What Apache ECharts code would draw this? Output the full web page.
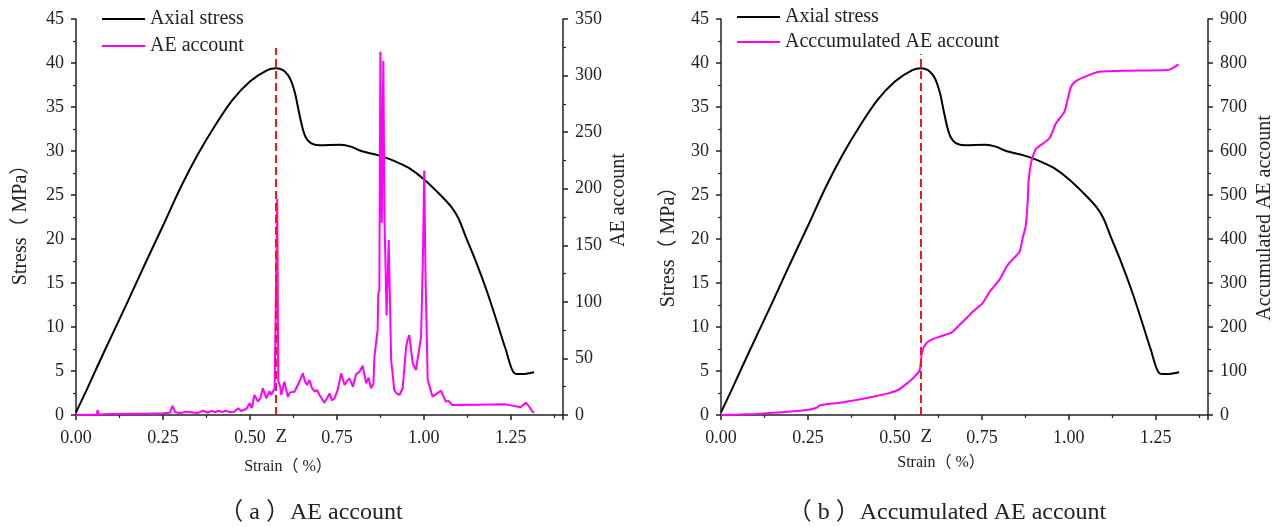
<!DOCTYPE html>
<html>
<head>
<meta charset="utf-8">
<title>Stress–strain and AE count</title>
<script src="https://cdn.jsdelivr.net/npm/echarts@6/dist/echarts.min.js"></script>
<style>
  html, body { margin: 0; padding: 0; background: #fff; }
  #chart { width: 1288px; height: 527px; }
</style>
</head>
<body>
<div id="chart"></div>
<script>
// Axial stress curve (shared by both panels): strain (%) and stress (MPa)
const strainStress = [0, 0.03, 0.06, 0.10, 0.15, 0.20, 0.25, 0.30, 0.35, 0.40, 0.45, 0.50, 0.55, 0.575, 0.595, 0.61, 0.62, 0.63, 0.64, 0.65, 0.66, 0.675, 0.70, 0.76, 0.79, 0.82, 0.87, 0.90, 0.93, 0.96, 1.00, 1.04, 1.08, 1.10, 1.12, 1.15, 1.18, 1.21, 1.235, 1.262, 1.285, 1.317];
const stress = [0.3, 2.8, 5.4, 8.8, 13.0, 17.3, 21.5, 25.8, 29.6, 32.9, 35.8, 37.9, 39.2, 39.4, 39.2, 38.6, 37.8, 36.5, 34.6, 32.8, 31.6, 30.9, 30.65, 30.7, 30.5, 30.0, 29.5, 29.1, 28.6, 28.0, 26.8, 25.3, 23.6, 22.3, 20.3, 17.4, 14.2, 10.6, 7.5, 4.7, 4.65, 4.85];

// AE count per step
const strainAE = [0, 0.03, 0.06, 0.062, 0.065, 0.10, 0.15, 0.20, 0.25, 0.27, 0.277, 0.285, 0.30, 0.315, 0.33, 0.35, 0.365, 0.38, 0.39, 0.40, 0.41, 0.42, 0.43, 0.44, 0.455, 0.466, 0.475, 0.49, 0.499, 0.505, 0.513, 0.523, 0.53, 0.537, 0.547, 0.556, 0.561, 0.571, 0.575, 0.5785, 0.5815, 0.587, 0.590, 0.599, 0.609, 0.615, 0.628, 0.640, 0.652, 0.658, 0.664, 0.671, 0.678, 0.686, 0.693, 0.700, 0.714, 0.722, 0.729, 0.736, 0.743, 0.752, 0.762, 0.772, 0.779, 0.786, 0.796, 0.805, 0.815, 0.824, 0.834, 0.841, 0.848, 0.855, 0.858, 0.867, 0.869, 0.872, 0.875, 0.879, 0.8835, 0.887, 0.893, 0.899, 0.906, 0.915, 0.922, 0.930, 0.939, 0.949, 0.953, 0.958, 0.968, 0.977, 0.992, 0.998, 1.001, 1.005, 1.011, 1.025, 1.049, 1.063, 1.070, 1.082, 1.15, 1.235, 1.278, 1.293, 1.302, 1.312, 1.317];
const aeCount = [0, 0.3, 0.5, 4.4, 0.5, 0.8, 1, 1.2, 1.5, 2, 8.2, 2.5, 1.5, 3, 2.5, 1.8, 3.8, 2, 3.6, 2.4, 3.8, 2.6, 3.9, 2.5, 2.8, 5.9, 3.5, 5.5, 10.3, 6, 17.7, 11.8, 15, 23.6, 14.7, 21, 17.7, 23.6, 23.6, 191, 30, 25, 17.7, 29.4, 16, 20, 20.6, 28, 36.8, 30, 26.5, 31, 24, 20.6, 22, 17.7, 10.9, 15, 19, 13, 14.7, 22, 36.8, 26.5, 30, 32.4, 25, 36, 38.3, 43.6, 28, 33, 23.6, 27.7, 51.6, 75, 107.5, 110, 321, 170, 313, 170, 88, 154.7, 48.6, 22, 19, 17.7, 23.6, 60.4, 66, 70.7, 45.7, 39.8, 69, 150, 216, 120, 31, 16.2, 21.5, 11.8, 12.5, 8.8, 9.1, 9.4, 6.8, 10.9, 7.7, 2.9, 2];

// Accumulated AE count
const strainCum = [0, 0.05, 0.10, 0.15, 0.20, 0.246, 0.265, 0.275, 0.285, 0.341, 0.40, 0.437, 0.475, 0.509, 0.537, 0.555, 0.571, 0.578, 0.590, 0.610, 0.628, 0.662, 0.686, 0.714, 0.724, 0.743, 0.752, 0.772, 0.800, 0.824, 0.858, 0.867, 0.876, 0.882, 0.884, 0.891, 0.901, 0.907, 0.944, 0.963, 0.987, 0.996, 1.006, 1.020, 1.059, 1.087, 1.164, 1.283, 1.297, 1.315];
const aeCumulative = [0, 1, 2.5, 5, 8, 11.4, 14, 16.7, 22, 28, 36, 41.7, 48, 56.8, 73.5, 86, 102, 144, 163, 173, 178, 187, 205, 227, 235, 248, 254, 280, 307, 341, 371, 401.6, 430, 489, 530, 572, 598, 606, 629, 663, 689, 716, 746, 759, 773, 780, 782.5, 784, 788, 797];

// Point Z (peak strength) and the height of its dashed guide in each panel
const zStrain = 0.573;
const zTop = [41.7, 41.0];

// Tick label sets
const strainTicks = [0, 0.25, 0.5, 0.75, 1.0, 1.25];

const pairs = (xs, ys) => xs.map((x, i) => [x, ys[i]]);

const SERIF = '"Liberation Serif", "Times New Roman", "Noto Sans CJK SC", serif';
const INK = '#222';

function xAxisFor(grid) {
  return {
    type: 'value', gridIndex: grid, min: 0, max: 1.4, interval: 0.25,
    axisLine: { show: true, onZero: false, lineStyle: { color: INK, width: 1.5 } },
    axisTick: { show: true, length: 5, lineStyle: { color: INK, width: 1.5 } },
    minorTick: { show: true, splitNumber: 2, length: 3, lineStyle: { color: INK, width: 1.2 } },
    splitLine: { show: false },
    axisLabel: {
      color: INK, fontFamily: SERIF, fontSize: 18, margin: 14,
      showMaxLabel: false,
      formatter: v => strainTicks.some(t => Math.abs(t - v) < 1e-9) ? v.toFixed(2) : ''
    }
  };
}

function yAxisFor(grid, side, max, interval) {
  return {
    type: 'value', gridIndex: grid, position: side, min: 0, max: max, interval: interval,
    axisLine: { show: true, onZero: false, lineStyle: { color: INK, width: 1.5 } },
    axisTick: { show: true, length: 5, lineStyle: { color: INK, width: 1.5 } },
    minorTick: { show: true, splitNumber: 2, length: 3, lineStyle: { color: INK, width: 1.2 } },
    splitLine: { show: false },
    axisLabel: { color: INK, fontFamily: SERIF, fontSize: 18, margin: 12 }
  };
}

function zLine(idx) {
  return {
    silent: true,
    symbol: ['none', 'none'],
    lineStyle: { color: '#f01818', width: 2, type: [8, 4] },
    label: {
      show: true, position: 'start', formatter: 'Z',
      color: INK, fontFamily: SERIF, fontSize: 19, distance: 13, offset: [6, 0]
    },
    data: [[{ coord: [zStrain, 0] }, { coord: [zStrain, zTop[idx]] }]]
  };
}

function textEl(text, x, y, size, rotate) {
  return {
    type: 'text', x: x, y: y, rotation: rotate ? Math.PI / 2 : 0,
    style: {
      text: text, fill: INK, fontFamily: SERIF, fontSize: size,
      textAlign: 'center', textVerticalAlign: 'middle'
    }
  };
}

const legendBase = {
  orient: 'vertical', padding: 0, itemWidth: 43, itemHeight: 14, itemGap: 5,
  icon: 'path://M0,6 L43,6 L43,8 L0,8 Z',
  textStyle: { color: INK, fontFamily: SERIF, fontSize: 20, lineHeight: 22 }
};

const chart = echarts.init(document.getElementById('chart'), null, { renderer: 'canvas' });

chart.setOption({
  animation: false,
  backgroundColor: '#fff',
  grid: [
    { left: 76, top: 19, width: 487, height: 396 },
    { left: 721, top: 19, width: 487, height: 396 }
  ],
  legend: [
    Object.assign({}, legendBase, { left: 102, top: 8, data: ['Axial stress', 'AE account'] }),
    Object.assign({}, legendBase, { left: 737, top: 6, itemGap: 3, data: ['Axial stress', 'Acccumulated AE account'] })
  ],
  xAxis: [xAxisFor(0), xAxisFor(1)],
  yAxis: [
    yAxisFor(0, 'left', 45, 5),
    yAxisFor(0, 'right', 350, 50),
    yAxisFor(1, 'left', 45, 5),
    yAxisFor(1, 'right', 900, 100)
  ],
  series: [
    {
      name: 'Axial stress', type: 'line', xAxisIndex: 0, yAxisIndex: 0,
      data: pairs(strainStress, stress), symbol: 'none', smooth: 0.3,
      color: '#000', lineStyle: { color: '#000', width: 2 },
      markLine: zLine(0)
    },
    {
      name: 'AE account', type: 'line', xAxisIndex: 0, yAxisIndex: 1,
      data: pairs(strainAE, aeCount), symbol: 'none',
      color: '#ff00ff', lineStyle: { color: '#ff00ff', width: 2 }
    },
    {
      name: 'Axial stress', type: 'line', xAxisIndex: 1, yAxisIndex: 2,
      data: pairs(strainStress, stress), symbol: 'none', smooth: 0.3,
      color: '#000', lineStyle: { color: '#000', width: 2 },
      markLine: zLine(1)
    },
    {
      name: 'Acccumulated AE account', type: 'line', xAxisIndex: 1, yAxisIndex: 3,
      data: pairs(strainCum, aeCumulative), symbol: 'none', smooth: 0.2,
      color: '#ff00ff', lineStyle: { color: '#ff00ff', width: 2 }
    }
  ],
  graphic: [
    textEl('Stress（ MPa）', 21, 220, 20, true),
    textEl('AE account', 619, 200, 20, true),
    textEl('Strain（ %）', 288, 467, 16, false),
    textEl('（ a ）AE account', 311, 513, 24, false),
    textEl('Stress（ MPa）', 669, 242, 20, true),
    textEl('Accumulated AE account', 1265, 218, 20, true),
    textEl('Strain（ %）', 941, 463, 16, false),
    textEl('（ b ）Accumulated AE account', 947, 513, 24, false)
  ]
});
</script>
</body>
</html>
